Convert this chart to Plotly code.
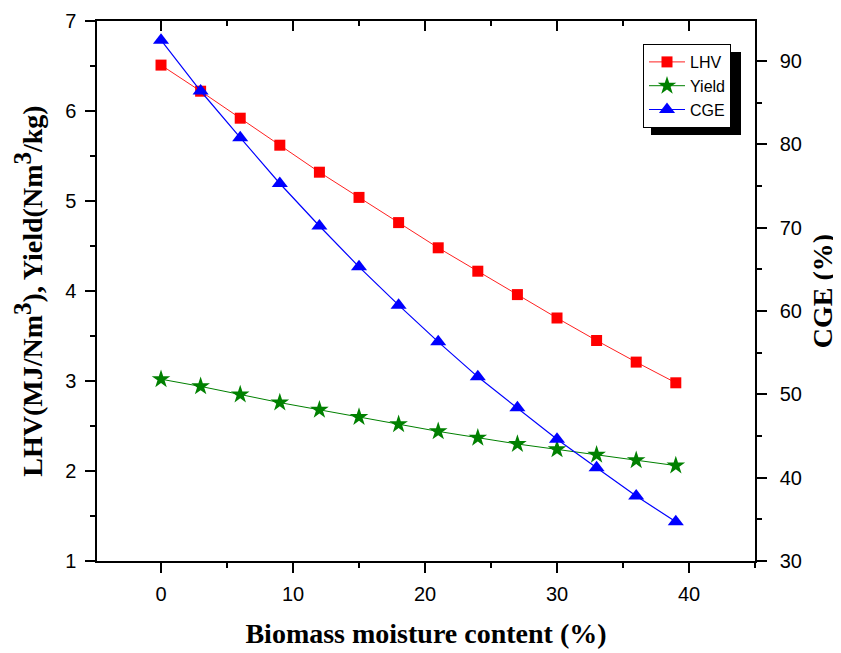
import plotly.graph_objects as go

moisture = [0, 3, 6, 9, 12, 15, 18, 21, 24, 27, 30, 33, 36, 39]
lhv = [6.51, 6.22, 5.92, 5.62, 5.32, 5.04, 4.76, 4.48, 4.22, 3.96, 3.70, 3.45, 3.21, 2.98]
yield_ = [3.02, 2.94, 2.85, 2.76, 2.68, 2.60, 2.52, 2.44, 2.37, 2.30, 2.24, 2.18, 2.12, 2.06]
cge = [92.5, 86.4, 80.8, 75.3, 70.2, 65.3, 60.7, 56.3, 52.1, 48.4, 44.6, 41.2, 37.8, 34.7]

fig = go.Figure()
fig.add_trace(go.Scatter(x=moisture, y=lhv, name="LHV", mode="lines+markers",
                         line=dict(color="#ff2020", width=1),
                         marker=dict(symbol="square", size=11, color="red")))
fig.add_trace(go.Scatter(x=moisture, y=yield_, name="Yield", mode="lines+markers",
                         line=dict(color="green", width=1),
                         marker=dict(symbol="star", size=14, color="green")))
fig.add_trace(go.Scatter(x=moisture, y=cge, name="CGE", mode="lines+markers", yaxis="y2",
                         line=dict(color="blue", width=1.2),
                         marker=dict(symbol="triangle-up", size=14, color="blue")))
# dummy trace to activate top axis
fig.add_trace(go.Scatter(x=[None], y=[None], xaxis="x2", showlegend=False, hoverinfo="skip"))

tickfont = dict(family="Liberation Sans, Arial", size=20, color="black")
titlefont = dict(family="Liberation Serif, Times New Roman", size=28, color="black")
sup3 = '<sup><span style="font-size:25px">3</span></sup>'

major = dict(ticklen=10, tickwidth=1.5, tickcolor="black")
common = dict(showline=True, linecolor="black", linewidth=1.5, showgrid=False,
              zeroline=False, automargin=False)

# page has an 8px body margin; plot area target in page px: x 97..755, y 21..561
W, H = 833, 645
L, R, T, B = 89, 86, 13, 92
PW, PH = W - L - R, H - T - B


def px(xp):
    return (xp - 8 - L) / PW


def py(yp):
    return (H - B - (yp - 8)) / PH


fig.update_layout(
    width=W, height=H,
    margin=dict(l=L, r=R, t=T, b=B),
    plot_bgcolor="white", paper_bgcolor="white",
    showlegend=True,
    legend=dict(x=px(643), y=py(44), xanchor="left", yanchor="top",
                bgcolor="white", bordercolor="black", borderwidth=1,
                font=dict(family="Liberation Sans, Arial", size=16, color="black"),
                tracegroupgap=0, itemwidth=36),
    xaxis=dict(range=[-4.85, 45], tickvals=[0, 10, 20, 30, 40], ticks="outside", **major,
               minor=dict(ticks="outside", dtick=5, tick0=0, ticklen=5, tickwidth=1.5, tickcolor="black"),
               tickfont=tickfont, ticklabelstandoff=4, **common,
               title=dict(text="<b>Biomass moisture content (%)</b>", font=titlefont, standoff=20)),
    xaxis2=dict(range=[-4.85, 45], overlaying="x", side="top", tickvals=[0, 10, 20, 30, 40],
                ticks="inside", **major, showticklabels=False,
                minor=dict(ticks="inside", dtick=5, tick0=0, ticklen=5, tickwidth=1.5, tickcolor="black"),
                **common),
    yaxis=dict(range=[1, 7], dtick=1, ticks="outside", **major,
               minor=dict(ticks="outside", dtick=0.5, tick0=1, ticklen=5, tickwidth=1.5, tickcolor="black"),
               tickfont=tickfont, ticklabelstandoff=5, **common,
               title=dict(text="<b>LHV(MJ/Nm" + sup3 + "), Yield(Nm" + sup3 + "/kg)</b>",
                          font=titlefont, standoff=14)),
    yaxis2=dict(range=[30, 94.8], tickvals=[30, 40, 50, 60, 70, 80, 90], overlaying="y", side="right",
                ticks="outside", **major,
                minor=dict(ticks="outside", dtick=5, tick0=30, ticklen=5, tickwidth=1.5, tickcolor="black"),
                tickfont=tickfont, ticklabelstandoff=9, **common,
                title=dict(text="<b>CGE (%)</b>", font=titlefont, standoff=11)),
)

# legend shadow
fig.add_shape(type="rect", xref="paper", yref="paper",
              x0=px(651), x1=px(741), y0=py(135), y1=py(52),
              fillcolor="black", line=dict(width=0), layer="above")

fig.write_html("out.html")
